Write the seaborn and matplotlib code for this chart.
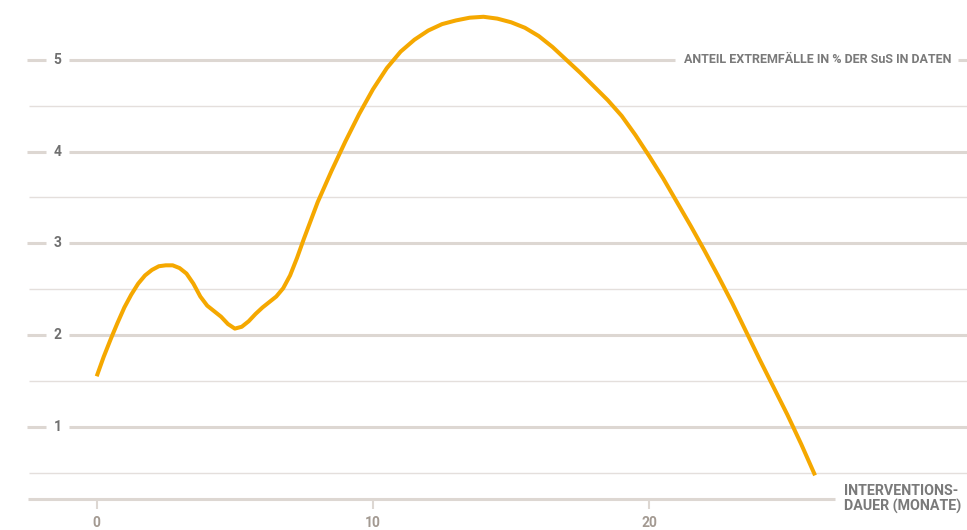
import numpy as np
import pandas as pd
import matplotlib
matplotlib.use("Agg")
import matplotlib.pyplot as plt
import seaborn as sns

# Data
months = [0, 0.25, 0.5, 0.75, 1, 1.25, 1.5, 1.75, 2, 2.25, 2.5, 2.75, 3, 3.25,
          3.5, 3.75, 4, 4.25, 4.5, 4.75, 5, 5.25, 5.5, 5.75, 6, 6.25, 6.5, 6.75,
          7, 7.25, 7.5, 8, 8.5, 9, 9.5, 10, 10.5, 11, 11.5, 12, 12.5, 13, 13.5,
          14, 14.5, 15, 15.5, 16, 16.5, 17, 17.5, 18, 18.5, 19, 19.5, 20, 20.5,
          21, 21.5, 22, 22.5, 23, 23.5, 24, 24.5, 25, 25.5, 26]
share = [1.55, 1.76, 1.95, 2.13, 2.30, 2.44, 2.56, 2.65, 2.71, 2.75, 2.76, 2.76,
         2.73, 2.67, 2.56, 2.42, 2.32, 2.26, 2.20, 2.12, 2.07, 2.09, 2.15, 2.23,
         2.30, 2.36, 2.42, 2.51, 2.65, 2.84, 3.05, 3.45, 3.79, 4.11, 4.41, 4.68,
         4.91, 5.09, 5.22, 5.32, 5.39, 5.43, 5.46, 5.47, 5.45, 5.41, 5.35, 5.26,
         5.14, 5.00, 4.86, 4.71, 4.56, 4.39, 4.18, 3.95, 3.71, 3.45, 3.19, 2.92,
         2.64, 2.35, 2.04, 1.73, 1.43, 1.13, 0.81, 0.47]
y_major = [1, 2, 3, 4, 5]
y_minor = [0.5, 1.5, 2.5, 3.5, 4.5]
x_ticks = [0, 10, 20]
y_title = "ANTEIL EXTREMFÄLLE IN % DER SuS IN DATEN"
x_title = "INTERVENTIONS-\nDAUER (MONATE)"

df = pd.DataFrame({"months": months, "share": share})

sns.set_style("white")
plt.rcParams["font.family"] = ["Roboto", "DejaVu Sans"]

major_col = "#ddd7d2"
minor_col = "#e4dfdc"
line_col = "#f5a800"

fig = plt.figure(figsize=(9.67, 5.30), dpi=100)
ax = fig.add_axes([0, 0, 1, 1])
ax.set_xlim(-3.50, 31.50)
ax.set_ylim(-0.126, 5.653)
ax.axis("off")

baseline = 0.21

# minor gridlines
ax.hlines(y_minor, -2.45, 31.5, color=minor_col, lw=1.0, zorder=1)

# major gridlines with a gap for the tick label
for v in y_major:
    ax.hlines(v, -2.52, -1.83, color=major_col, lw=2.2, zorder=1)
    right_end = 20.93 if v == 5 else 31.5
    ax.hlines(v, -0.99, right_end, color=major_col, lw=2.2, zorder=1)
    ax.text(-1.42, v, str(v), ha="center", va="center", fontsize=10,
            fontweight="bold", color="#707070")
ax.hlines(5, 31.17, 31.5, color=major_col, lw=2.2, zorder=1)
ax.text(21.26, 5, y_title, ha="left", va="center", fontsize=9.0,
        fontweight="bold", color="#7a7a7a")

# x baseline, ticks, labels
ax.hlines(baseline, -2.49, 26.72, color=major_col, lw=2.2, zorder=1)
ax.vlines(x_ticks, 0.10, 0.19, color=major_col, lw=1.5, zorder=1)
for t in x_ticks:
    ax.text(t, -0.05, str(t), ha="center", va="center", fontsize=10,
            fontweight="bold", color="#a39a92")
ax.text(27.05, baseline, x_title, ha="left", va="center", fontsize=10.3,
        fontweight="bold", color="#7a7a7a", linespacing=1.1)

sns.lineplot(data=df, x="months", y="share", ax=ax, color=line_col,
             linewidth=2.9, zorder=3, solid_capstyle="butt")

fig.savefig("out.png", dpi=100)
